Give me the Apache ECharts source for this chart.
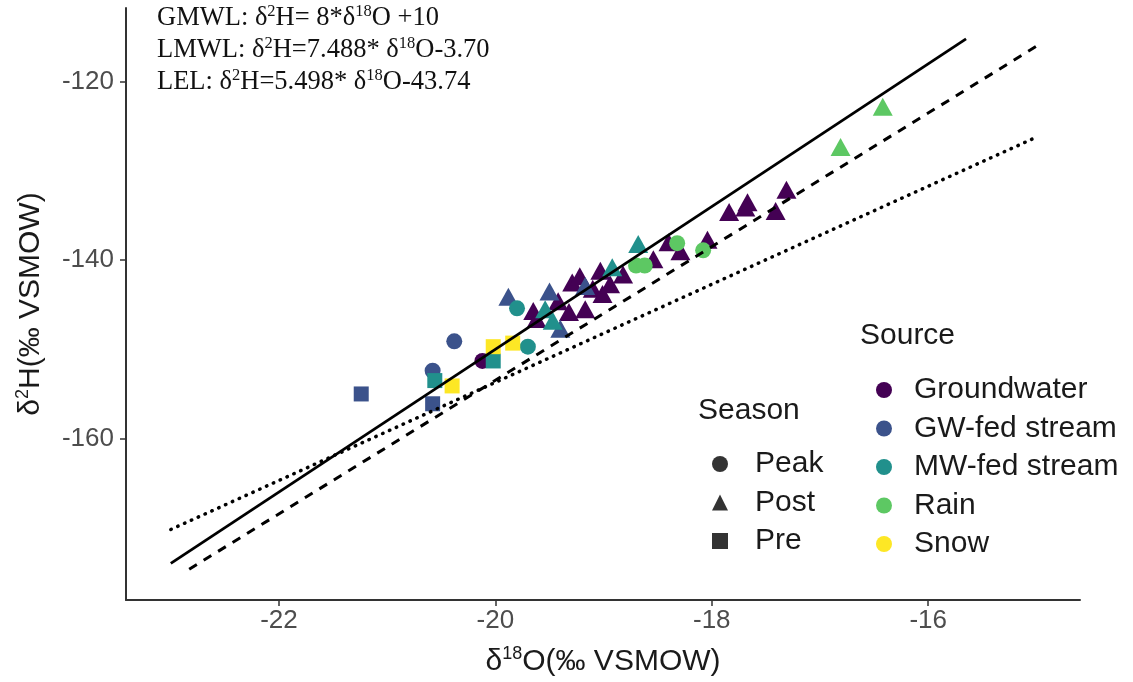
<!DOCTYPE html>
<html>
<head>
<meta charset="utf-8">
<script src="https://cdn.jsdelivr.net/npm/echarts@6/dist/echarts.min.js"></script>
<style>
  html, body { margin: 0; padding: 0; background: #ffffff; }
  #chart { width: 1133px; height: 682px; }
</style>
</head>
<body>
<div id="chart"></div>
<script>
// Stable isotope samples, one list per water source: [δ18O, δ2H, season]
const groundwater = [
  [-20.12, -151.3, 'Peak'],
  [-19.65, -145.7, 'Post'], [-19.62, -146.6, 'Post'], [-19.42, -144.6, 'Post'],
  [-19.32, -145.8, 'Post'], [-19.17, -145.5, 'Post'], [-19.29, -142.5, 'Post'],
  [-19.22, -141.8, 'Post'], [-19.10, -143.2, 'Post'], [-19.03, -141.2, 'Post'],
  [-19.01, -143.8, 'Post'], [-18.94, -142.7, 'Post'], [-18.82, -141.6, 'Post'],
  [-18.54, -139.9, 'Post'], [-18.40, -138.0, 'Post'], [-18.29, -139.0, 'Post'],
  [-18.04, -137.7, 'Post'], [-17.84, -134.6, 'Post'], [-17.67, -133.5, 'Post'],
  [-17.69, -134.1, 'Post'], [-17.41, -134.5, 'Post'], [-17.31, -132.1, 'Post']
];
const gwFedStream = [
  [-21.24, -155.0, 'Pre'], [-20.58, -156.1, 'Pre'],
  [-20.58, -152.4, 'Peak'], [-20.38, -149.1, 'Peak'],
  [-19.88, -144.1, 'Post'], [-19.50, -143.5, 'Post'],
  [-19.40, -147.7, 'Post'], [-19.17, -142.9, 'Post']
];
const mwFedStream = [
  [-20.56, -153.5, 'Pre'], [-20.02, -151.3, 'Pre'],
  [-19.70, -149.7, 'Peak'], [-19.80, -145.4, 'Peak'],
  [-19.54, -145.5, 'Post'], [-19.47, -146.8, 'Post'],
  [-18.92, -140.8, 'Post'], [-18.68, -138.2, 'Post']
];
const rain = [
  [-18.70, -140.6, 'Peak'], [-18.62, -140.6, 'Peak'],
  [-18.32, -138.1, 'Peak'], [-18.08, -138.9, 'Peak'],
  [-16.81, -127.3, 'Post'], [-16.42, -122.8, 'Post']
];
const snow = [
  [-20.40, -154.1, 'Pre'], [-20.02, -149.7, 'Pre'], [-19.84, -149.3, 'Pre']
];

const sourceNames = ['Groundwater', 'GW-fed stream', 'MW-fed stream', 'Rain', 'Snow'];
const sourceColors = ['#440154', '#3B528B', '#21908C', '#5DC863', '#FDE725'];
const seasonNames = ['Peak', 'Post', 'Pre'];
const seasonSymbols = ['circle', 'triangle', 'rect'];

const xTicks = [-22, -20, -18, -16];
const yTicks = [-160, -140, -120];

// Water lines: [slope, intercept] and the δ18O span each one is drawn over
const gmwlCoef = [8, 10];
const gmwlSpan = [-23.0, -15.65];
const lmwlCoef = [7.488, -3.70];
const lmwlSpan = [-22.83, -15.0];
const lelCoef = [5.498, -43.74];
const lelSpan = [-23.0, -15.0];

const symbolOf = {};
const sizeOf = { circle: 16, triangle: [20, 18], rect: 15 };
seasonNames.forEach((s, i) => { symbolOf[s] = seasonSymbols[i]; });

function lineData(coef, span) {
  return span.map(x => [x, coef[0] * x + coef[1]]);
}

const sansFont = 'Liberation Sans, Arial, sans-serif';
const serifFont = 'Liberation Serif, Times New Roman, serif';
const textColor = '#1a1a1a';

const sourceData = [groundwater, gwFedStream, mwFedStream, rain, snow];

const pointSeries = sourceNames.map((name, i) => ({
  name: name,
  type: 'scatter',
  data: sourceData[i],
  encode: { x: 0, y: 1 },
  symbol: v => symbolOf[v[2]],
  symbolSize: v => sizeOf[symbolOf[v[2]]],
  itemStyle: { color: sourceColors[i], opacity: 1 },
  z: 2
}));

// Shape-only entries for the season key
const seasonSeries = seasonNames.map((name, i) => ({
  name: name,
  type: 'scatter',
  data: [],
  symbol: seasonSymbols[i],
  itemStyle: { color: '#000000' }
}));

function waterLine(name, coef, span, lineType, width, cap) {
  return {
    name: name,
    type: 'line',
    data: lineData(coef, span),
    symbol: 'none',
    silent: true,
    z: 5,
    lineStyle: { color: '#000000', width: width, type: lineType, cap: cap || 'butt' }
  };
}

// One equation line of the top-left note, with raised isotope numbers
function equationText(text, top) {
  return {
    type: 'text',
    left: 157,
    top: top,
    style: {
      text: text,
      rich: {
        t: { fontFamily: serifFont, fontSize: 26.5, lineHeight: 31, fill: '#111111' },
        s: { fontFamily: serifFont, fontSize: 16.5, lineHeight: 17, verticalAlign: 'top', fill: '#111111' }
      }
    }
  };
}

const axisNameRich = {
  t: { fontFamily: sansFont, fontSize: 30, lineHeight: 34, color: textColor },
  s: { fontFamily: sansFont, fontSize: 18, lineHeight: 19, verticalAlign: 'top', color: textColor }
};

const chart = echarts.init(document.getElementById('chart'), null, { renderer: 'canvas' });

chart.setOption({
  backgroundColor: '#ffffff',
  animation: false,
  grid: { left: 126, top: 8, width: 954, height: 594, containLabel: false },
  xAxis: {
    type: 'value',
    min: -23.414,
    max: -14.597,
    splitLine: { show: false },
    axisLine: { onZero: false, lineStyle: { color: '#333333', width: 2 } },
    axisTick: { customValues: xTicks, length: 6, lineStyle: { color: '#333333', width: 1.5 } },
    axisLabel: { customValues: xTicks, fontFamily: sansFont, fontSize: 26, color: '#4d4d4d', margin: 8 },
    name: '{t|δ}{s|18}{t|O(‰ VSMOW)}',
    nameLocation: 'middle',
    nameGap: 45,
    nameTextStyle: { rich: axisNameRich }
  },
  yAxis: {
    type: 'value',
    min: -178.1,
    max: -111.73,
    splitLine: { show: false },
    axisLine: { onZero: false, lineStyle: { color: '#333333', width: 2 } },
    axisTick: { customValues: yTicks, length: 6, lineStyle: { color: '#333333', width: 1.5 } },
    axisLabel: { customValues: yTicks, fontFamily: sansFont, fontSize: 26, color: '#4d4d4d', margin: 12 },
    name: '{t|δ}{s|2}{t|H(‰ VSMOW)}',
    nameLocation: 'middle',
    nameGap: 78,
    nameRotate: 90,
    nameTextStyle: { rich: axisNameRich }
  },
  legend: [
    {
      orient: 'vertical',
      left: 707,
      top: 444,
      itemWidth: 16,
      itemHeight: 16,
      itemGap: 8.5,
      selectedMode: false,
      data: seasonNames.map((n, i) => ({ name: n, icon: seasonSymbols[i], itemStyle: { color: '#000000' } })),
      textStyle: { fontFamily: sansFont, fontSize: 30, lineHeight: 30, color: textColor, padding: [0, 0, 0, 22] }
    },
    {
      orient: 'vertical',
      left: 871,
      top: 370,
      itemWidth: 16,
      itemHeight: 16,
      itemGap: 8.5,
      selectedMode: false,
      data: sourceNames.map(n => ({ name: n, icon: 'circle' })),
      textStyle: { fontFamily: sansFont, fontSize: 30, lineHeight: 30, color: textColor, padding: [0, 0, 0, 17] }
    }
  ],
  graphic: [
    equationText('{t|GMWL: δ}{s|2}{t|H= 8*δ}{s|18}{t|O +10}', 3),
    equationText('{t|LMWL: δ}{s|2}{t|H=7.488* δ}{s|18}{t|O-3.70}', 35),
    equationText('{t|LEL: δ}{s|2}{t|H=5.498* δ}{s|18}{t|O-43.74}', 67),
    {
      type: 'text', left: 698, top: 396,
      style: { text: 'Season', fontFamily: sansFont, fontSize: 30, fill: textColor }
    },
    {
      type: 'text', left: 860, top: 321,
      style: { text: 'Source', fontFamily: sansFont, fontSize: 30, fill: textColor }
    }
  ],
  series: [
    ...pointSeries,
    ...seasonSeries,
    waterLine('GMWL', gmwlCoef, gmwlSpan, 'solid', 2.8),
    waterLine('LMWL', lmwlCoef, lmwlSpan, [9, 8], 3),
    waterLine('LEL', lelCoef, lelSpan, [0.5, 7], 3.5, 'round')
  ]
});
</script>
</body>
</html>
